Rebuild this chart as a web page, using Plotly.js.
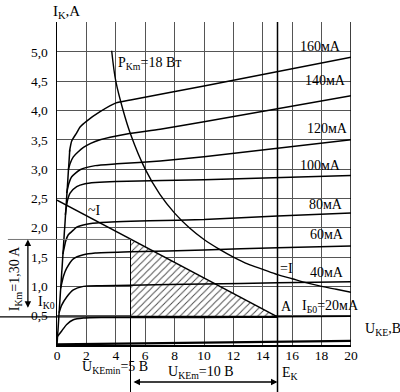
<!DOCTYPE html>
<html>
<head>
<meta charset="utf-8">
<script src="https://cdn.plot.ly/plotly-3.0.1.min.js"></script>
<style>html,body{margin:0;padding:0;background:#fff;}#chart{width:400px;height:392px;}</style>
</head>
<body>
<div id="chart"></div>
<script>
// ---- data ----
const xTicks = [0, 2, 4, 6, 8, 10, 12, 14, 16, 18, 20];
const xTickText = ['0', '2', '4', '6', '8', '10', '12', '14', '16', '18', '20'];
const yTicks = [0.5, 1.0, 1.5, 2.0, 2.5, 3.0, 3.5, 4.0, 4.5, 5.0];
const yTickText = ['0,5', '1,0', '1,5', '2,0', '2,5', '3,0', '3,5', '4,0', '4,5', '5,0'];

const curveLabels = ['20мА', '40мА', '60мА', '80мА', '100мА', '120мА', '140мА', '160мА'];

const u0 = [0, 20];
const i0 = [0.01, 0.07];
const u20 = [0.04, 0.32, 0.66, 1.11, 1.8, 3, 10, 15, 20];
const i20 = [0.15, 0.24, 0.35, 0.43, 0.46, 0.47, 0.47, 0.48, 0.49];
const u40 = [0.14, 0.32, 0.66, 1.11, 1.8, 3, 5, 10, 15, 20];
const i40 = [0.55, 0.68, 0.82, 0.94, 1.0, 1.01, 1.02, 1.04, 1.06, 1.08];
const u60 = [0.25, 0.45, 0.66, 1.11, 1.8, 2.6, 5, 10, 15, 20];
const i60 = [0.97, 1.18, 1.31, 1.47, 1.54, 1.57, 1.59, 1.62, 1.66, 1.69];
const u80 = [0.4, 0.6, 0.77, 1.11, 1.34, 2.02, 3, 6.3, 10, 15, 20];
const i80 = [1.55, 1.78, 1.88, 1.96, 2.01, 2.06, 2.09, 2.12, 2.14, 2.2, 2.25];
const u100 = [0.57, 0.7, 0.89, 1.34, 1.91, 2.6, 4, 10, 20];
const i100 = [2.22, 2.45, 2.59, 2.70, 2.75, 2.77, 2.79, 2.82, 2.89];
const u120 = [0.66, 0.8, 1.0, 1.57, 2.6, 4.07, 7.02, 10, 20];
const i120 = [2.59, 2.75, 2.87, 2.99, 3.06, 3.09, 3.14, 3.21, 3.50];
const u140 = [0.77, 0.9, 1.11, 1.8, 2.93, 4.75, 7.02, 10, 20];
const i140 = [2.99, 3.1, 3.21, 3.37, 3.5, 3.6, 3.68, 3.81, 4.25];
const u160 = [0.85, 1.0, 1.34, 1.57, 2.02, 2.93, 4.02, 5, 10, 20];
const i160 = [3.3, 3.48, 3.62, 3.72, 3.82, 3.98, 4.13, 4.18, 4.42, 4.91];

// steep initial (saturation) line
const uSat = [0, 0.87];
const iSat = [0, 3.33];

// P_Km = 18 W hyperbola
const uP = [3.72, 4.0, 4.5, 5, 6, 7, 8, 9, 10, 11, 12, 13, 14, 15, 16, 17, 18, 19, 20];
const iP = [5.02, 4.5, 4.0, 3.6, 3.0, 2.57, 2.25, 2.0, 1.8, 1.64, 1.5, 1.38, 1.29, 1.2, 1.13, 1.06, 1.0, 0.95, 0.9];

// load line (~I) and operating point A
const uLoad = [0, 15];
const iLoad = [2.47, 0.48];
const uKEmin = 5;
const eK = 15;
const iK0 = 0.48;
const iKmax = 1.8;
// hatched triangle
const uHatch = [5, 5, 15];
const iHatch = [1.8, 0.48, 0.48];

// ---- drawing ----
const FONT = 'Liberation Serif, Times New Roman, serif';
const lineStyle = {color: '#000', width: 1.5};
function curve(x, y, name, w) {
  return {x: x, y: y, name: name, type: 'scatter', mode: 'lines',
          line: {color: '#000', width: w || 1.5, shape: 'spline', smoothing: 0.6},
          hoverinfo: 'skip'};
}

const traces = [
  {x: uHatch, y: iHatch, type: 'scatter', mode: 'lines', fill: 'toself',
   line: {width: 0, color: 'rgba(0,0,0,0)'}, fillcolor: 'white',
   fillpattern: {shape: '/', size: 5, solidity: 0.18, fgcolor: '#444', bgcolor: 'white'},
   hoverinfo: 'skip'},
  curve(u0, i0, '0', 2.2),
  curve(u20, i20, curveLabels[0]),
  curve(u40, i40, curveLabels[1]),
  curve(u60, i60, curveLabels[2]),
  curve(u80, i80, curveLabels[3]),
  curve(u100, i100, curveLabels[4]),
  curve(u120, i120, curveLabels[5]),
  curve(u140, i140, curveLabels[6]),
  curve(u160, i160, curveLabels[7]),
  {x: uSat, y: iSat, type: 'scatter', mode: 'lines', line: lineStyle, hoverinfo: 'skip'},
  {x: uP, y: iP, type: 'scatter', mode: 'lines', line: {color: '#000', width: 1.4, shape: 'spline'}, hoverinfo: 'skip'},
  {x: uLoad, y: iLoad, type: 'scatter', mode: 'lines', line: {color: '#000', width: 1.5}, hoverinfo: 'skip'}
];

const shapes = [
  // right frame at x = 20
  {type: 'line', xref: 'x', yref: 'paper', x0: 20, x1: 20, y0: 0, y1: 1, line: {color: '#000', width: 1.5}},
  // E_K vertical line
  {type: 'line', xref: 'x', yref: 'paper', x0: eK, x1: eK, y0: -0.146, y1: 1, line: {color: '#000', width: 1.5}},
  // U_KEmin vertical line
  {type: 'line', xref: 'x', yref: 'y', x0: uKEmin, x1: uKEmin, y0: 0, y1: iKmax, line: {color: '#000', width: 1}},
  {type: 'line', xref: 'x', yref: 'paper', x0: uKEmin, x1: uKEmin, y0: -0.146, y1: 0, line: {color: '#000', width: 1}},
  // I_K0 line
  {type: 'line', xref: 'paper', yref: 'y', x0: -0.194, x1: 0, y0: iK0, y1: iK0, line: {color: '#000', width: 1.2}},
  {type: 'line', xref: 'x', yref: 'y', x0: 0, x1: eK, y0: iK0, y1: iK0, line: {color: '#000', width: 1.2}},
  {type: 'line', xref: 'x', yref: 'y', x0: uKEmin, x1: eK, y0: iK0, y1: iK0, line: {color: '#000', width: 2.2}},
  // I_K max line
  {type: 'line', xref: 'paper', yref: 'y', x0: -0.167, x1: 0, y0: iKmax, y1: iKmax, line: {color: '#777', width: 1}},
  {type: 'line', xref: 'x', yref: 'y', x0: 0, x1: uKEmin, y0: iKmax, y1: iKmax, line: {color: '#777', width: 1}}
];

function txt(text, x, y, xref, yref, opts) {
  return Object.assign({text: text, x: x, y: y, xref: xref, yref: yref, showarrow: false,
    xanchor: 'center', yanchor: 'middle',
    font: {family: FONT, size: 14, color: '#000'}}, opts || {});
}

const annotations = [
  txt('I<sub>K</sub>,A', -0.02, 1.03, 'paper', 'paper', {xanchor: 'left', font: {family: FONT, size: 15, color: '#000'}}),
  txt('P<sub>Km</sub>=18 Вт', 4.02, 4.81, 'x', 'y', {xanchor: 'left'}),
  txt(curveLabels[7], 17.93, 5.09, 'x', 'y'),
  txt(curveLabels[6], 18.27, 4.52, 'x', 'y'),
  txt(curveLabels[5], 18.4, 3.70, 'x', 'y'),
  txt(curveLabels[4], 17.93, 3.07, 'x', 'y'),
  txt(curveLabels[3], 18.27, 2.39, 'x', 'y'),
  txt(curveLabels[2], 18.4, 1.88, 'x', 'y'),
  txt(curveLabels[1], 18.4, 1.23, 'x', 'y'),
  txt('A', 15.6, 0.65, 'x', 'y'),
  txt('I<sub>Б0</sub>=' + curveLabels[0], 16.5, 0.65, 'x', 'y', {xanchor: 'left'}),
  txt('=I', 15.0, 1.31, 'x', 'y', {xanchor: 'left'}),
  txt('~I', 2.52, 2.30, 'x', 'y'),
  txt('I<sub>K0</sub>', -0.072, 0.72, 'paper', 'y', {xanchor: 'left'}),
  txt('I<sub>Km</sub>=1,30 A', -0.143, 1.14, 'paper', 'y', {textangle: -90}),
  txt('U<sub>KEmin</sub>=5 B', 3.95, -0.071, 'x', 'paper'),
  txt('U<sub>KEm</sub>=10 B', 9.8, -0.086, 'x', 'paper'),
  txt('E<sub>K</sub>', 15.2, -0.089, 'x', 'paper', {xanchor: 'left'}),
  txt('U<sub>KE</sub>,B', 1.04, 0.26, 'paper', 'y', {xanchor: 'left'}),
  // vertical double arrow (I_Km)
  {text: ' ', xref: 'paper', x: -0.099, yref: 'y', y: iKmax, axref: 'pixel', ax: 0, ayref: 'y', ay: iK0,
   showarrow: true, arrowhead: 2, startarrowhead: 2, arrowside: 'end+start', arrowsize: 1, arrowwidth: 1.3, arrowcolor: '#000',
   standoff: 0, startstandoff: 0},
  // horizontal double arrow (U_KEm)
  {text: ' ', xref: 'x', x: eK, axref: 'x', ax: uKEmin, yref: 'paper', y: -0.1146, ayref: 'pixel', ay: 0,
   showarrow: true, arrowhead: 2, startarrowhead: 2, arrowside: 'end+start', arrowsize: 1, arrowwidth: 1.3, arrowcolor: '#000',
   standoff: 0, startstandoff: 0}
];

const layout = {
  width: 400, height: 392,
  margin: {l: 57, r: 49, t: 22, b: 47, pad: 0},
  paper_bgcolor: '#fff', plot_bgcolor: '#fff',
  showlegend: false,
  font: {family: FONT, size: 13, color: '#000'},
  xaxis: {range: [0, 20], tickvals: xTicks, ticktext: xTickText, showgrid: true, gridcolor: '#555', gridwidth: 1,
          zeroline: false, showline: true, linecolor: '#000', linewidth: 2, ticks: '', ticklabelstandoff: -3,
          tickfont: {family: FONT, size: 13.5, color: '#000'}, fixedrange: true},
  yaxis: {range: [0, 5.51], tickvals: yTicks, ticktext: yTickText, showgrid: true, gridcolor: '#555', gridwidth: 1,
          zeroline: false, showline: true, linecolor: '#000', linewidth: 1.5, ticks: 'outside', ticklen: 5,
          tickcolor: 'rgba(0,0,0,0)', tickfont: {family: FONT, size: 13.5, color: '#000'}, fixedrange: true},
  shapes: shapes,
  annotations: annotations
};

Plotly.newPlot('chart', traces, layout, {displayModeBar: false, staticPlot: true});
</script>
</body>
</html>
